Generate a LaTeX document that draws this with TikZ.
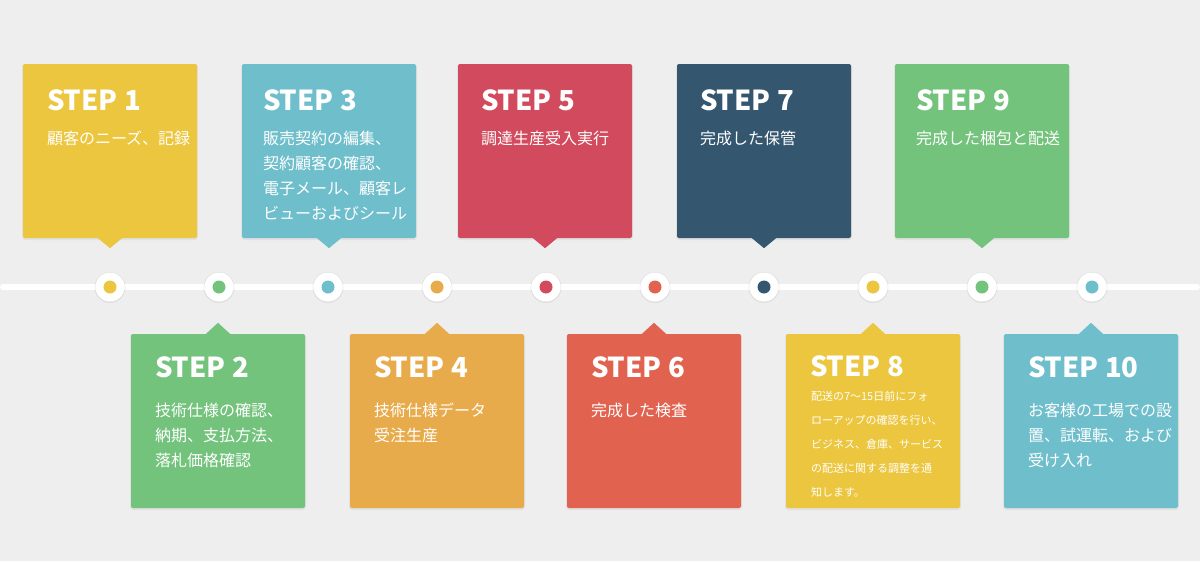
\documentclass[tikz,border=0pt]{standalone}
\usepackage{fontspec}
\setmainfont{Noto Sans CJK JP}
\usetikzlibrary{calc}
\definecolor{bg}{HTML}{EEEEEE}
\definecolor{cyel}{HTML}{EBC63E}
\definecolor{cteal}{HTML}{6FBECB}
\definecolor{cgreen}{HTML}{73C37C}
\definecolor{corange}{HTML}{E8AB4B}
\definecolor{ccrim}{HTML}{D24A5D}
\definecolor{cred}{HTML}{E0624F}
\definecolor{cnavy}{HTML}{34566F}
\tikzset{
  box/.style={rectangle, rounded corners=2pt, minimum width=174pt, minimum height=174pt, inner sep=0pt},
  shadowbox/.style={rectangle, rounded corners=3pt, minimum width=176pt, minimum height=176pt, inner sep=0pt, fill=black, opacity=0.05},
  title/.style={text=white, font=\fontsize{27.5}{28}\selectfont\bfseries, inner sep=0pt},
  body/.style={text=white, font=\fontsize{16}{25}\selectfont, inner sep=0pt, align=left},
  smallbody/.style={text=white, font=\fontsize{11}{24}\selectfont, inner sep=0pt, align=left},
  ring/.style={circle, fill=white, minimum size=29pt, inner sep=0pt},
  ringshadow/.style={circle, fill=black, opacity=0.06, minimum size=31pt, inner sep=0pt},
  dot/.style={circle, minimum size=13pt, inner sep=0pt},
  timeline/.style={white, line width=6pt, line cap=round}
}
\newcommand\topstep[5]{%
  \node[shadowbox] at (#2,152) {};
  \node[box, fill=#3] (b#1) at (#2,151) {};
  \fill[#3] ($(b#1.south)+(-12,0)$) -- ($(b#1.south)+(0,10)$) -- ($(b#1.south)+(12,0)$) -- cycle;
  \node[title, anchor=base west] (t#1) at ($(b#1.north west)+(#5,47)$) {STEP #1};
  \node[body, anchor=north west] (d#1) at ($(b#1.north west)+(#5,62.5)$) {\strut #4};
}
\newcommand\botstep[4]{%
  \node[shadowbox] at (#2,422) {};
  \node[box, fill=#3] (b#1) at (#2,421) {};
  \fill[#3] ($(b#1.north)+(-12,0)$) -- ($(b#1.north)+(0,-11)$) -- ($(b#1.north)+(12,0)$) -- cycle;
  \node[title, anchor=base west] (t#1) at ($(b#1.north west)+(24,43.5)$) {STEP #1};
  \node[body, anchor=north west] (d#1) at ($(b#1.north west)+(24,65)$) {\strut #4};
}
\newcommand\tdot[3]{%
  \node[ringshadow] at (#2,287.5) {};
  \node[ring] (c#1) at (#2,287) {};
  \node[dot, fill=#3] (k#1) at (c#1) {};
}
\begin{document}
\begin{tikzpicture}[x=1pt,y=-1pt]
\useasboundingbox (0,0) rectangle (1200,560);
\fill[bg] (-10,-10) rectangle (1210,570);

\coordinate (L0) at (3,287);
\coordinate (L1) at (1197,287);
\draw[timeline] (L0) -- (L1);

\tdot{1}{110}{cyel}
\tdot{2}{219}{cgreen}
\tdot{3}{328}{cteal}
\tdot{4}{437}{corange}
\tdot{5}{546}{ccrim}
\tdot{6}{655}{cred}
\tdot{7}{764}{cnavy}
\tdot{8}{873}{cyel}
\tdot{9}{982}{cgreen}
\tdot{10}{1092}{cteal}

\topstep{1}{110}{cyel}{顧客のニーズ、記録}{24}
\topstep{3}{329}{cteal}{販売契約の編集、\\契約顧客の確認、\\電子メール、顧客レ\\ビューおよびシール}{21}
\topstep{5}{545}{ccrim}{調達生産受入実行}{23}
\topstep{7}{764}{cnavy}{完成した保管}{23}
\topstep{9}{982}{cgreen}{完成した梱包と配送}{21}

\botstep{2}{218}{cgreen}{技術仕様の確認、\\納期、支払方法、\\落札価格確認}
\botstep{4}{437}{corange}{技術仕様データ\\受注生産}
\botstep{6}{654}{cred}{完成した検査}

\node[shadowbox] at (873,422) {};
\node[box, fill=cyel] (b8) at (873,421) {};
\fill[cyel] ($(b8.north)+(-12,0)$) -- ($(b8.north)+(0,-11)$) -- ($(b8.north)+(12,0)$) -- cycle;
\node[title, anchor=base west] (t8) at ($(b8.north west)+(24,43)$) {STEP 8};
\node[smallbody, anchor=north west] (d8) at ($(b8.north west)+(25,49.2)$) {\strut 配送の7〜15日前にフォ\\ローアップの確認を行い、\\ビジネス、倉庫、サービス\\の配送に関する調整を通\\知します。};

\botstep{10}{1091}{cteal}{お客様の工場での設\\置、試運転、および\\受け入れ}
\end{tikzpicture}
\end{document}
